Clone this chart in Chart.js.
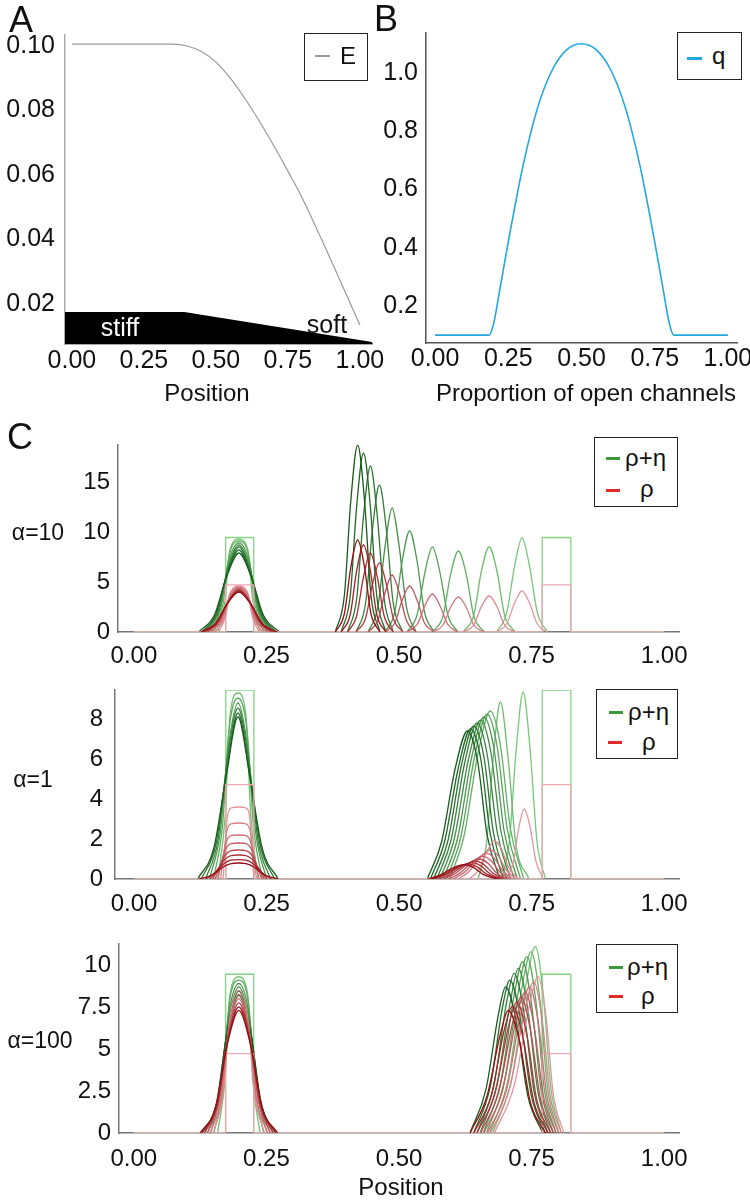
<!DOCTYPE html>
<html>
<head>
<meta charset="utf-8">
<title>Stiffness, channels and density profiles</title>
<script src="https://cdn.jsdelivr.net/npm/chart.js@4.4.1/dist/chart.umd.min.js"></script>
<style>
  body { margin: 0; background: #fff; }
  #page { position: relative; width: 750px; height: 1200px; overflow: hidden; font-family: "Liberation Sans", Arial, sans-serif; color: #111; }
  #page canvas { position: absolute; }
  .c { position: absolute; transform: translate(-50%, -50%); white-space: nowrap; line-height: 1; }
  .l { position: absolute; transform: translateY(-50%); white-space: nowrap; line-height: 1; font-size: 24px; }
  .box { position: absolute; box-sizing: border-box; border: 1.5px solid #222; background: #fff; }
  .dash { position: absolute; height: 3px; }
</style>
</head>
<body>
<div id="page">
  <canvas id="chartA" width="390" height="410" style="left:0;top:0"></canvas>
  <canvas id="chartB" width="375" height="410" style="left:375px;top:0"></canvas>
  <canvas id="chartC1" width="750" height="250" style="left:0;top:420px"></canvas>
  <canvas id="chartC2" width="750" height="245" style="left:0;top:675px"></canvas>
  <canvas id="chartC3" width="750" height="270" style="left:0;top:930px"></canvas>

  <div class="c" style="left:21px;top:20px;font-size:36px">A</div>
  <div class="c" style="left:386px;top:19px;font-size:36px">B</div>
  <div class="c" style="left:20px;top:437px;font-size:36px">C</div>

  <div class="c" style="left:120px;top:327px;font-size:25px;color:#fff">stiff</div>
  <div class="c" style="left:327px;top:324px;font-size:25px">soft</div>
  <div class="c" style="left:207px;top:393px;font-size:24px">Position</div>
  <div class="c" style="left:586px;top:393px;font-size:24px">Proportion of open channels</div>
  <div class="c" style="left:401px;top:1187px;font-size:24px">Position</div>

  <div class="c" style="left:38px;top:532px;font-size:23px">α=10</div>
  <div class="c" style="left:33px;top:779px;font-size:23px">α=1</div>
  <div class="c" style="left:40px;top:1040px;font-size:23px">α=100</div>

  <div class="box" style="left:304px;top:33px;width:64px;height:48px">
    <div class="dash" style="left:10px;top:21px;width:15px;height:2px;background:#999"></div>
    <div class="l" style="left:35px;top:22px">E</div>
  </div>
  <div class="box" style="left:677px;top:32px;width:65px;height:48px">
    <div class="dash" style="left:9px;top:24px;width:15px;background:#22a7e0"></div>
    <div class="l" style="left:34px;top:23px">q</div>
  </div>

  <div class="box" style="left:594px;top:437px;width:84px;height:70px">
    <div class="dash" style="left:11px;top:19px;width:14px;background:#3a9a3a"></div>
    <div class="l" style="left:30px;top:20px">ρ+η</div>
    <div class="dash" style="left:11px;top:51px;width:14px;background:#e02a2a"></div>
    <div class="l" style="left:45px;top:51px">ρ</div>
  </div>
  <div class="box" style="left:596px;top:689px;width:82px;height:70px">
    <div class="dash" style="left:12px;top:21px;width:14px;background:#3a9a3a"></div>
    <div class="l" style="left:31px;top:22px">ρ+η</div>
    <div class="dash" style="left:11px;top:51px;width:14px;background:#e02a2a"></div>
    <div class="l" style="left:45px;top:52px">ρ</div>
  </div>
  <div class="box" style="left:596px;top:944px;width:82px;height:69px">
    <div class="dash" style="left:12px;top:21px;width:14px;background:#3a9a3a"></div>
    <div class="l" style="left:30px;top:22px">ρ+η</div>
    <div class="dash" style="left:12px;top:50px;width:14px;background:#e02a2a"></div>
    <div class="l" style="left:44px;top:51px">ρ</div>
  </div>
</div>

<script>
// ---- panel A: stiffness E along the position ----
const posA = [0, 0.30, 0.35, 0.40, 0.45, 0.50, 0.55, 0.60, 0.65, 0.70, 0.75, 0.80, 0.90, 1.00];
const stiffness = [0.1006, 0.1006, 0.1006, 0.1000, 0.0983, 0.0950, 0.0900, 0.0838, 0.0768, 0.0692, 0.0612, 0.0528, 0.0335, 0.0135];
const bandX = [-0.024, 0.39, 1.042];
const bandY = [0.0175, 0.0175, 0.0082];
const xTicksA = [0, 0.25, 0.5, 0.75, 1];
const xLabelsA = ['0.00', '0.25', '0.50', '0.75', '1.00'];
const yTicksA = [0.02, 0.04, 0.06, 0.08, 0.10];
const yLabelsA = ['0.02', '0.04', '0.06', '0.08', '0.10'];

// ---- panel B: q against proportion of open channels ----
const openFrac = [0, 0.185, 0.20, 0.22, 0.25, 0.30, 0.35, 0.40, 0.45, 0.50, 0.55, 0.60, 0.65, 0.70, 0.75, 0.78, 0.80, 0.815, 1.0];
const qVals = [0.1, 0.1, 0.14, 0.25, 0.42, 0.68, 0.88, 1.01, 1.08, 1.10, 1.08, 1.01, 0.88, 0.68, 0.42, 0.25, 0.14, 0.1, 0.1];
const yTicksB = [0.2, 0.4, 0.6, 0.8, 1.0];
const yLabelsB = ['0.2', '0.4', '0.6', '0.8', '1.0'];

// ---- panel C: initial blocks (same in all three rows) ----
const initGreen = [[0, 0], [0.173, 0], [0.173, 9.45], [0.226, 9.45], [0.226, 0], [0.77, 0], [0.77, 9.45], [0.824, 9.45], [0.824, 0], [1, 0]];
const initRed = [[0, 0], [0.173, 0], [0.173, 4.72], [0.226, 4.72], [0.226, 0], [0.77, 0], [0.77, 4.72], [0.824, 4.72], [0.824, 0], [1, 0]];

// alpha = 10 (earliest first)
const a10LeftG = [
  [[0.158, 0], [0.172, 3.2], [0.181, 8.2], [0.198, 9.3], [0.215, 8.2], [0.224, 3.2], [0.238, 0]],
  [[0.151, 0], [0.168, 2.8], [0.179, 7.5], [0.198, 9.1], [0.217, 7.5], [0.228, 2.8], [0.245, 0]],
  [[0.144, 0], [0.164, 2.4], [0.178, 6.9], [0.198, 8.9], [0.218, 6.9], [0.232, 2.4], [0.252, 0]],
  [[0.138, 0], [0.161, 2.2], [0.177, 6.4], [0.198, 8.7], [0.219, 6.4], [0.235, 2.2], [0.258, 0]],
  [[0.133, 0], [0.158, 2.0], [0.176, 6.0], [0.198, 8.5], [0.220, 6.0], [0.238, 2.0], [0.263, 0]],
  [[0.128, 0], [0.155, 1.8], [0.175, 5.7], [0.198, 8.2], [0.221, 5.7], [0.241, 1.8], [0.268, 0]],
  [[0.122, 0], [0.152, 1.7], [0.174, 5.4], [0.198, 7.9], [0.222, 5.4], [0.244, 1.7], [0.274, 0]]
];
const a10LeftR = [
  [[0.160, 0], [0.173, 1.6], [0.182, 4.0], [0.198, 4.6], [0.214, 4.0], [0.223, 1.6], [0.236, 0]],
  [[0.153, 0], [0.169, 1.3], [0.180, 3.6], [0.198, 4.5], [0.216, 3.6], [0.227, 1.3], [0.243, 0]],
  [[0.146, 0], [0.165, 1.15], [0.179, 3.3], [0.198, 4.4], [0.217, 3.3], [0.231, 1.15], [0.250, 0]],
  [[0.140, 0], [0.161, 1.05], [0.178, 3.1], [0.198, 4.3], [0.218, 3.1], [0.235, 1.05], [0.256, 0]],
  [[0.135, 0], [0.158, 0.95], [0.177, 2.95], [0.198, 4.2], [0.219, 2.95], [0.238, 0.95], [0.261, 0]],
  [[0.130, 0], [0.156, 0.9], [0.176, 2.85], [0.198, 4.1], [0.220, 2.85], [0.240, 0.9], [0.266, 0]],
  [[0.126, 0], [0.154, 0.85], [0.175, 2.75], [0.198, 4.0], [0.221, 2.75], [0.242, 0.85], [0.270, 0]]
];
const a10RightG = [
  [[0.684, 0], [0.703, 1.9], [0.718, 6.6], [0.732, 9.4], [0.746, 6.6], [0.761, 1.9], [0.780, 0]],
  [[0.621, 0], [0.641, 1.7], [0.655, 6.0], [0.670, 8.5], [0.685, 6.0], [0.699, 1.7], [0.719, 0]],
  [[0.563, 0], [0.583, 1.6], [0.597, 5.7], [0.612, 8.1], [0.627, 5.7], [0.641, 1.6], [0.661, 0]],
  [[0.515, 0], [0.534, 1.7], [0.549, 6.0], [0.563, 8.5], [0.577, 6.0], [0.592, 1.7], [0.611, 0]],
  [[0.474, 0], [0.492, 2.0], [0.506, 7.1], [0.520, 10.1], [0.534, 7.1], [0.548, 2.0], [0.566, 0]],
  [[0.442, 0], [0.460, 2.5], [0.474, 8.7], [0.487, 12.4], [0.500, 8.7], [0.514, 2.5], [0.532, 0]],
  [[0.419, 0], [0.437, 2.9], [0.450, 10.3], [0.463, 14.7], [0.476, 10.3], [0.489, 2.9], [0.507, 0]],
  [[0.403, 0], [0.420, 3.3], [0.433, 11.6], [0.446, 16.6], [0.459, 11.6], [0.472, 3.3], [0.489, 0]],
  [[0.391, 0], [0.408, 3.6], [0.420, 12.5], [0.433, 17.9], [0.446, 12.5], [0.458, 3.6], [0.475, 0]],
  [[0.380, 0], [0.397, 3.7], [0.409, 13.1], [0.422, 18.7], [0.435, 13.1], [0.447, 3.7], [0.464, 0]]
];
const a10RightR = [
  [[0.684, 0], [0.703, 0.8], [0.718, 2.9], [0.732, 4.1], [0.746, 2.9], [0.761, 0.8], [0.780, 0]],
  [[0.621, 0], [0.641, 0.7], [0.655, 2.5], [0.670, 3.6], [0.685, 2.5], [0.699, 0.7], [0.719, 0]],
  [[0.563, 0], [0.583, 0.7], [0.597, 2.45], [0.612, 3.5], [0.627, 2.45], [0.641, 0.7], [0.661, 0]],
  [[0.515, 0], [0.534, 0.75], [0.549, 2.65], [0.563, 3.8], [0.577, 2.65], [0.592, 0.75], [0.611, 0]],
  [[0.474, 0], [0.492, 0.9], [0.506, 3.2], [0.520, 4.6], [0.534, 3.2], [0.548, 0.9], [0.566, 0]],
  [[0.442, 0], [0.460, 1.15], [0.474, 4.0], [0.487, 5.7], [0.500, 4.0], [0.514, 1.15], [0.532, 0]],
  [[0.419, 0], [0.437, 1.4], [0.450, 4.8], [0.463, 6.9], [0.476, 4.8], [0.489, 1.4], [0.507, 0]],
  [[0.403, 0], [0.420, 1.6], [0.433, 5.5], [0.446, 7.9], [0.459, 5.5], [0.472, 1.6], [0.489, 0]],
  [[0.391, 0], [0.408, 1.75], [0.420, 6.1], [0.433, 8.7], [0.446, 6.1], [0.458, 1.75], [0.475, 0]],
  [[0.380, 0], [0.397, 1.85], [0.409, 6.45], [0.422, 9.2], [0.435, 6.45], [0.447, 1.85], [0.464, 0]]
];

// alpha = 1
const a1LeftG = [
  [[0.158, 0], [0.172, 3.2], [0.181, 8.2], [0.196, 9.3], [0.211, 8.2], [0.220, 3.2], [0.234, 0]],
  [[0.150, 0], [0.167, 2.7], [0.178, 7.2], [0.196, 9.05], [0.214, 7.2], [0.225, 2.7], [0.242, 0]],
  [[0.142, 0], [0.162, 2.2], [0.177, 6.4], [0.196, 8.8], [0.215, 6.4], [0.230, 2.2], [0.250, 0]],
  [[0.135, 0], [0.158, 1.9], [0.175, 5.8], [0.196, 8.55], [0.217, 5.8], [0.234, 1.9], [0.257, 0]],
  [[0.127, 0], [0.154, 1.7], [0.174, 5.3], [0.196, 8.3], [0.218, 5.3], [0.238, 1.7], [0.265, 0]],
  [[0.120, 0], [0.150, 1.5], [0.173, 5.0], [0.196, 8.1], [0.219, 5.0], [0.242, 1.5], [0.272, 0]]
];
const a1LeftR = [
  [[0.168, 0], [0.172, 1.6], [0.176, 3.1], [0.183, 3.55], [0.197, 3.6], [0.211, 3.55], [0.218, 3.1], [0.222, 1.6], [0.226, 0]],
  [[0.163, 0], [0.169, 1.2], [0.175, 2.4], [0.183, 2.76], [0.197, 2.8], [0.211, 2.76], [0.219, 2.4], [0.225, 1.2], [0.231, 0]],
  [[0.158, 0], [0.166, 0.9], [0.174, 1.85], [0.183, 2.17], [0.197, 2.2], [0.211, 2.17], [0.220, 1.85], [0.228, 0.9], [0.236, 0]],
  [[0.153, 0], [0.163, 0.7], [0.173, 1.5], [0.183, 1.77], [0.197, 1.8], [0.211, 1.77], [0.221, 1.5], [0.231, 0.7], [0.241, 0]],
  [[0.148, 0], [0.160, 0.55], [0.172, 1.2], [0.183, 1.42], [0.197, 1.45], [0.211, 1.42], [0.222, 1.2], [0.234, 0.55], [0.246, 0]],
  [[0.143, 0], [0.157, 0.45], [0.171, 0.98], [0.183, 1.17], [0.197, 1.2], [0.211, 1.17], [0.223, 0.98], [0.237, 0.45], [0.251, 0]],
  [[0.135, 0], [0.153, 0.33], [0.170, 0.78], [0.183, 0.94], [0.197, 0.97], [0.211, 0.94], [0.224, 0.78], [0.241, 0.33], [0.259, 0]],
  [[0.122, 0], [0.148, 0.2], [0.168, 0.6], [0.183, 0.77], [0.197, 0.8], [0.211, 0.77], [0.226, 0.6], [0.246, 0.2], [0.272, 0]]
];
const a1RightG = [
  [[0.694, 0], [0.708, 1.9], [0.721, 6.5], [0.734, 9.35], [0.747, 6.5], [0.760, 1.9], [0.776, 0]],
  [[0.649, 0], [0.665, 1.8], [0.678, 6.2], [0.691, 8.85], [0.705, 6.2], [0.720, 1.8], [0.745, 0]],
  [[0.595, 0], [0.622, 2.1], [0.649, 6.3], [0.672, 8.4], [0.691, 6.7], [0.710, 2.5], [0.735, 0]],
  [[0.589, 0], [0.616, 2.05], [0.643, 6.2], [0.666, 8.25], [0.685, 6.6], [0.704, 2.5], [0.729, 0]],
  [[0.583, 0], [0.610, 2.0], [0.637, 6.1], [0.660, 8.1], [0.679, 6.5], [0.698, 2.4], [0.723, 0]],
  [[0.577, 0], [0.604, 2.0], [0.631, 6.0], [0.654, 7.95], [0.673, 6.35], [0.692, 2.4], [0.717, 0]],
  [[0.571, 0], [0.598, 1.95], [0.624, 5.85], [0.647, 7.8], [0.666, 6.25], [0.685, 2.35], [0.710, 0]],
  [[0.565, 0], [0.592, 1.9], [0.618, 5.75], [0.641, 7.65], [0.660, 6.1], [0.678, 2.3], [0.703, 0]],
  [[0.559, 0], [0.586, 1.9], [0.612, 5.6], [0.635, 7.5], [0.654, 6.0], [0.672, 2.25], [0.697, 0]],
  [[0.553, 0], [0.580, 1.85], [0.606, 5.55], [0.629, 7.4], [0.648, 5.9], [0.666, 2.2], [0.690, 0]]
];
const a1RightR = [
  [[0.703, 0], [0.716, 0.9], [0.726, 2.6], [0.736, 3.5], [0.747, 2.6], [0.758, 0.9], [0.772, 0]],
  [[0.632, 0], [0.650, 0.45], [0.666, 1.4], [0.680, 1.9], [0.693, 1.5], [0.707, 0.55], [0.725, 0]],
  [[0.612, 0], [0.633, 0.4], [0.654, 1.1], [0.672, 1.45], [0.687, 1.15], [0.702, 0.45], [0.720, 0]],
  [[0.602, 0], [0.624, 0.35], [0.646, 0.97], [0.665, 1.28], [0.680, 1.02], [0.696, 0.4], [0.714, 0]],
  [[0.593, 0], [0.616, 0.32], [0.638, 0.86], [0.658, 1.13], [0.674, 0.9], [0.690, 0.35], [0.709, 0]],
  [[0.584, 0], [0.607, 0.3], [0.630, 0.76], [0.651, 1.0], [0.667, 0.8], [0.684, 0.3], [0.704, 0]],
  [[0.575, 0], [0.599, 0.27], [0.623, 0.68], [0.644, 0.9], [0.660, 0.72], [0.678, 0.27], [0.699, 0]],
  [[0.567, 0], [0.591, 0.25], [0.615, 0.62], [0.637, 0.82], [0.654, 0.66], [0.672, 0.25], [0.694, 0]],
  [[0.561, 0], [0.585, 0.23], [0.608, 0.58], [0.630, 0.76], [0.647, 0.61], [0.666, 0.23], [0.689, 0]],
  [[0.555, 0], [0.579, 0.22], [0.601, 0.55], [0.623, 0.72], [0.640, 0.58], [0.659, 0.22], [0.684, 0]]
];

// alpha = 100
const a100LeftG = [
  [[0.158, 0], [0.172, 3.2], [0.181, 8.2], [0.198, 9.3], [0.215, 8.2], [0.224, 3.2], [0.238, 0]],
  [[0.151, 0], [0.168, 2.8], [0.179, 7.5], [0.198, 9.1], [0.217, 7.5], [0.228, 2.8], [0.245, 0]],
  [[0.145, 0], [0.164, 2.5], [0.178, 6.9], [0.198, 8.9], [0.218, 6.9], [0.232, 2.5], [0.251, 0]],
  [[0.139, 0], [0.161, 2.2], [0.177, 6.4], [0.198, 8.7], [0.219, 6.4], [0.235, 2.2], [0.257, 0]],
  [[0.133, 0], [0.158, 2.0], [0.176, 6.1], [0.198, 8.45], [0.220, 6.1], [0.238, 2.0], [0.263, 0]],
  [[0.128, 0], [0.156, 1.8], [0.175, 5.8], [0.198, 8.2], [0.221, 5.8], [0.240, 1.8], [0.268, 0]]
];
const a100LeftR = [
  [[0.150, 0], [0.168, 2.3], [0.180, 6.6], [0.198, 8.5], [0.216, 6.6], [0.228, 2.3], [0.246, 0]],
  [[0.144, 0], [0.165, 2.1], [0.179, 6.2], [0.198, 8.25], [0.217, 6.2], [0.231, 2.1], [0.252, 0]],
  [[0.139, 0], [0.161, 1.9], [0.178, 5.9], [0.198, 8.0], [0.218, 5.9], [0.235, 1.9], [0.257, 0]],
  [[0.134, 0], [0.158, 1.75], [0.177, 5.6], [0.198, 7.75], [0.219, 5.6], [0.238, 1.75], [0.262, 0]],
  [[0.129, 0], [0.156, 1.6], [0.176, 5.35], [0.198, 7.5], [0.220, 5.35], [0.240, 1.6], [0.267, 0]],
  [[0.125, 0], [0.154, 1.5], [0.175, 5.1], [0.198, 7.3], [0.221, 5.1], [0.242, 1.5], [0.271, 0]]
];
const a100RightG = [
  [[0.677, 0], [0.713, 3.3], [0.741, 9.1], [0.757, 11.1], [0.772, 8.3], [0.786, 2.8], [0.806, 0]],
  [[0.671, 0], [0.706, 3.2], [0.733, 8.85], [0.749, 10.8], [0.765, 8.1], [0.780, 2.7], [0.801, 0]],
  [[0.665, 0], [0.699, 3.15], [0.726, 8.6], [0.741, 10.5], [0.758, 7.9], [0.774, 2.6], [0.796, 0]],
  [[0.659, 0], [0.692, 3.05], [0.718, 8.35], [0.733, 10.2], [0.750, 7.65], [0.768, 2.55], [0.791, 0]],
  [[0.653, 0], [0.685, 2.95], [0.711, 8.0], [0.725, 9.8], [0.743, 7.35], [0.762, 2.45], [0.786, 0]],
  [[0.647, 0], [0.679, 2.85], [0.703, 7.8], [0.717, 9.5], [0.736, 7.1], [0.755, 2.4], [0.781, 0]],
  [[0.641, 0], [0.672, 2.75], [0.695, 7.45], [0.709, 9.1], [0.729, 6.8], [0.749, 2.3], [0.776, 0]],
  [[0.634, 0], [0.664, 2.6], [0.688, 7.15], [0.701, 8.7], [0.722, 6.5], [0.743, 2.2], [0.771, 0]]
];
const a100RightR = [
  [[0.680, 0], [0.717, 2.8], [0.746, 7.6], [0.762, 9.3], [0.777, 7.0], [0.791, 2.3], [0.811, 0]],
  [[0.673, 0], [0.709, 2.7], [0.738, 7.4], [0.754, 9.0], [0.770, 6.75], [0.785, 2.25], [0.806, 0]],
  [[0.667, 0], [0.703, 2.6], [0.730, 7.15], [0.746, 8.7], [0.763, 6.5], [0.779, 2.2], [0.801, 0]],
  [[0.660, 0], [0.695, 2.5], [0.722, 6.9], [0.738, 8.4], [0.755, 6.3], [0.773, 2.1], [0.796, 0]],
  [[0.654, 0], [0.688, 2.45], [0.715, 6.65], [0.730, 8.1], [0.748, 6.1], [0.767, 2.0], [0.791, 0]],
  [[0.647, 0], [0.681, 2.35], [0.707, 6.4], [0.722, 7.8], [0.741, 5.85], [0.760, 1.95], [0.786, 0]],
  [[0.641, 0], [0.674, 2.25], [0.699, 6.2], [0.714, 7.55], [0.734, 5.65], [0.754, 1.9], [0.781, 0]],
  [[0.634, 0], [0.666, 2.2], [0.692, 6.0], [0.706, 7.3], [0.727, 5.5], [0.748, 1.8], [0.776, 0]]
];

const xTicksC = [0, 0.25, 0.5, 0.75, 1];
const xLabelsC = ['0.00', '0.25', '0.50', '0.75', '1.00'];
const yTicksC1 = [0, 5, 10, 15];
const yTicksC2 = [0, 2, 4, 6, 8];
const yTicksC3 = [0, 2.5, 5, 7.5, 10];

// colours: light (early) to dark (late)
const GREEN = [[132, 212, 132], [22, 92, 28]];
const RED = [[238, 168, 178], [150, 14, 20]];

function mix(pal, t) {
  const c = pal[0].map((v, i) => Math.round(v + (pal[1][i] - v) * t));
  return 'rgb(' + c.join(',') + ')';
}

function curve(pts, color) {
  return {
    data: pts.map(p => ({ x: p[0], y: p[1] })),
    borderColor: color,
    borderWidth: 1.3
  };
}

function family(list, pal) {
  return list.map((pts, i) => Object.assign(curve(pts, mix(pal, (i + 1) / list.length)), {
    cubicInterpolationMode: 'monotone'
  }));
}

function panelSets(leftG, rightG, leftR, rightR) {
  return [
    curve(initGreen, mix(GREEN, 0)),
    ...family(leftG, GREEN),
    ...family(rightG, GREEN),
    curve(initRed, mix(RED, 0)),
    ...family(leftR, RED),
    ...family(rightR, RED)
  ];
}

// plot = [left, top, right, bottom] in page pixels
function makeChart(id, plot, xs, ys, datasets, axis) {
  const cv = document.getElementById(id);
  const ox = cv.offsetLeft, oy = cv.offsetTop;
  const L = plot[0] - ox, T = plot[1] - oy, R = plot[2] - ox, B = plot[3] - oy;
  const tickFont = { family: 'Liberation Sans', size: axis.font };

  return new Chart(cv, {
    type: 'line',
    data: {
      datasets: datasets.map((d, i) => Object.assign({ order: datasets.length - i, fill: false, pointRadius: 0 }, d))
    },
    options: {
      responsive: false,
      animation: false,
      devicePixelRatio: 1,
      events: [],
      layout: { padding: { left: 0, top: T, right: cv.width - R, bottom: 0 } },
      plugins: { legend: { display: false }, tooltip: { enabled: false } },
      scales: {
        x: {
          type: 'linear',
          min: xs.min,
          max: xs.max,
          grid: { display: false, drawTicks: false },
          border: { color: axis.xColor, width: 1.5 },
          ticks: {
            font: tickFont, color: '#111', padding: axis.xPad,
            maxRotation: 0, autoSkip: false,
            callback: (v, i) => xs.labels[i]
          },
          afterBuildTicks: s => { s.ticks = xs.ticks.map(v => ({ value: v })); },
          afterFit: s => { s.height = cv.height - B; s.paddingLeft = 0; s.paddingRight = 0; }
        },
        y: {
          type: 'linear',
          min: ys.min,
          max: ys.max,
          grid: { display: false, drawTicks: false },
          border: { color: axis.yColor, width: 1.5 },
          ticks: {
            font: tickFont, color: '#111', padding: axis.yPad,
            autoSkip: false,
            callback: (v, i) => ys.labels[i]
          },
          afterBuildTicks: s => { s.ticks = ys.ticks.map(v => ({ value: v })); },
          afterFit: s => { s.width = L; s.paddingTop = 0; s.paddingBottom = 0; }
        }
      }
    }
  });
}

// A
makeChart('chartA', [65, 35, 372, 344],
  { min: -0.024, max: 1.042, ticks: xTicksA, labels: xLabelsA },
  { min: 0.0076, max: 0.1034, ticks: yTicksA, labels: yLabelsA },
  [
    Object.assign(curve(posA.map((x, i) => [x, stiffness[i]]), '#9a9a9a'), { cubicInterpolationMode: 'monotone', borderWidth: 1.2 }),
    Object.assign(curve(bandX.map((x, i) => [x, bandY[i]]), '#000'), { fill: 'start', backgroundColor: '#000', borderWidth: 0 })
  ],
  { font: 25, xPad: 2, yPad: 10, xColor: '#555', yColor: '#aaa' });

// B
makeChart('chartB', [426, 33, 737, 343],
  { min: -0.031, max: 1.031, ticks: xTicksA, labels: xLabelsA },
  { min: 0.073, max: 1.137, ticks: yTicksB, labels: yLabelsB },
  [Object.assign(curve(openFrac.map((x, i) => [x, qVals[i]]), '#22a7e0'), { cubicInterpolationMode: 'monotone', borderWidth: 1.6 })],
  { font: 25, xPad: 1, yPad: 8, xColor: '#555', yColor: '#555' });

// C rows
makeChart('chartC1', [118, 445, 679, 632],
  { min: -0.030, max: 1.028, ticks: xTicksC, labels: xLabelsC },
  { min: 0, max: 18.7, ticks: yTicksC1, labels: yTicksC1.map(String) },
  panelSets(a10LeftG, a10RightG, a10LeftR, a10RightR),
  { font: 24, xPad: 10, yPad: 8, xColor: '#777', yColor: '#777' });

makeChart('chartC2', [115, 690, 679, 879],
  { min: -0.036, max: 1.028, ticks: xTicksC, labels: xLabelsC },
  { min: 0, max: 9.45, ticks: yTicksC2, labels: yTicksC2.map(String) },
  panelSets(a1LeftG, a1RightG, a1LeftR, a1RightR),
  { font: 24, xPad: 11, yPad: 12, xColor: '#777', yColor: '#777' });

makeChart('chartC3', [119, 944, 679, 1133],
  { min: -0.028, max: 1.028, ticks: xTicksC, labels: xLabelsC },
  { min: 0, max: 11.25, ticks: yTicksC3, labels: yTicksC3.map(String) },
  panelSets(a100LeftG, a100RightG, a100LeftR, a100RightR),
  { font: 24, xPad: 12, yPad: 8, xColor: '#777', yColor: '#777' });
</script>
</body>
</html>
